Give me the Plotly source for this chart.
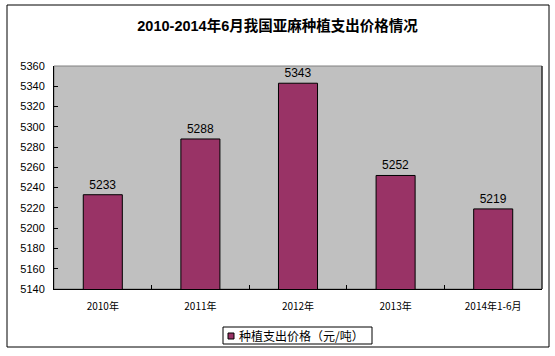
import plotly.graph_objects as go

categories = ["2010年", "2011年", "2012年", "2013年", "2014年1-6月"]
values = [5233, 5288, 5343, 5252, 5219]
series_name = "种植支出价格（元/吨）"
title = "2010-2014年6月我国亚麻种植支出价格情况"
bar_color = "#993366"

L, R, T, B = 54, 542, 66, 289
W, H = R - L, B - T

def px(x):
    return (x - L) / W

def py(y):
    return (B - y) / H

fig = go.Figure()
fig.add_trace(go.Bar(
    x=categories, y=values, name=series_name,
    marker=dict(color=bar_color, line=dict(color="black", width=1)),
    width=0.4,
    text=[str(v) for v in values], textposition="outside",
    textfont=dict(family="Liberation Sans, Arial", size=12, color="black"),
    cliponaxis=False, showlegend=False, hoverinfo="skip",
))

fig.update_layout(
    width=555, height=356,
    margin=dict(l=L, r=555 - R, t=T, b=356 - B, autoexpand=False),
    paper_bgcolor="white", plot_bgcolor="#C0C0C0",
    title=dict(text="<b>" + title + "</b>", x=0.5, xanchor="center", y=1 - 26 / 356, yanchor="middle",
               font=dict(family="Liberation Sans, Noto Sans CJK SC", size=14.5, color="black")),
    showlegend=False,
    bargap=0.6,
)
fig.update_yaxes(range=[5140, 5360], dtick=20, showgrid=False, automargin=False,
                 ticks="inside", ticklen=4, tickcolor="black",
                 showline=True, linecolor="black", linewidth=1,
                 tickfont=dict(family="Liberation Sans, Arial", size=11, color="black"),
                 ticklabelstandoff=6, zeroline=False)
fig.update_xaxes(showgrid=False, ticks="inside", ticklen=4, tickcolor="black", automargin=False,
                 tickson="boundaries",
                 showline=True, linecolor="black", linewidth=1,
                 tickfont=dict(family="Noto Sans CJK SC", size=10, color="black"),
                 ticklabelstandoff=8)
# plot area border (top/right)
fig.add_shape(type="rect", xref="paper", yref="paper", x0=0, x1=1, y0=0, y1=1,
              line=dict(color="#808080", width=1), layer="below")
fig.add_shape(type="line", xref="paper", yref="paper", x0=1, x1=1, y0=0, y1=1,
              line=dict(color="black", width=1))
# outer chart border
fig.add_shape(type="rect", xref="paper", yref="paper",
              x0=px(7), x1=px(549), y0=py(347), y1=py(5),
              line=dict(color="black", width=1), fillcolor="rgba(0,0,0,0)")
# legend box
fig.add_shape(type="rect", xref="paper", yref="paper",
              x0=px(223), x1=px(372), y0=py(344), y1=py(327),
              line=dict(color="black", width=1), fillcolor="white")
fig.add_shape(type="rect", xref="paper", yref="paper",
              x0=px(228), x1=px(234), y0=py(339), y1=py(333),
              line=dict(color="black", width=1), fillcolor=bar_color)
fig.add_annotation(text=series_name, xref="paper", yref="paper", x=px(237), y=py(335.5),
                   xanchor="left", yanchor="middle", showarrow=False,
                   font=dict(family="Noto Sans CJK SC", size=12, color="black"))

fig.write_html("out.html", config={"displayModeBar": False},
               post_script="document.body.style.margin='0';document.body.style.overflow='hidden';")
